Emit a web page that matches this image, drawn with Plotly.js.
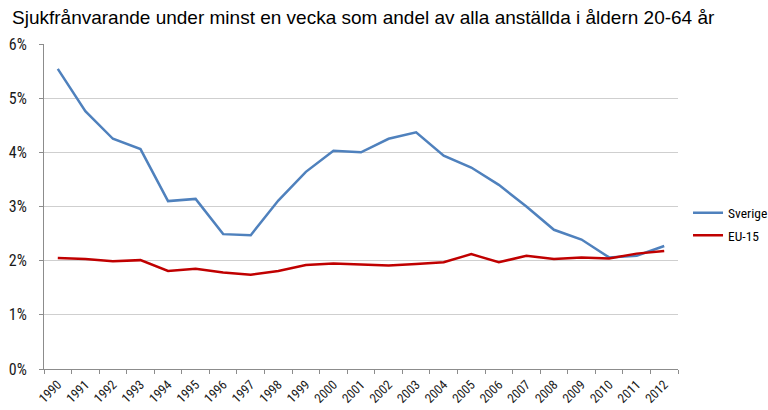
<!DOCTYPE html>
<html>
<head>
<meta charset="utf-8">
<script src="https://cdn.plot.ly/plotly-3.0.1.min.js"></script>
<style>html,body{margin:0;padding:0;background:#fff;}#chart{width:768px;height:410px;}</style>
</head>
<body>
<div id="chart"></div>
<script>
const years = ['1990','1991','1992','1993','1994','1995','1996','1997','1998','1999','2000','2001','2002','2003','2004','2005','2006','2007','2008','2009','2010','2011','2012'];
const sverige = [5.54,4.76,4.25,4.06,3.10,3.14,2.49,2.47,3.11,3.64,4.03,4.00,4.25,4.37,3.94,3.72,3.40,3.00,2.57,2.39,2.06,2.09,2.27];
const eu15 = [2.05,2.03,1.99,2.01,1.81,1.85,1.78,1.74,1.81,1.92,1.95,1.93,1.91,1.94,1.97,2.12,1.97,2.09,2.03,2.06,2.04,2.13,2.18];
const yTicks = [0,1,2,3,4,5,6];
const yTickText = ['0%','1%','2%','3%','4%','5%','6%'];
const titleText = 'Sjukfrånvarande under minst en vecka som andel av alla anställda i åldern 20-64 år';

const narrow = '"Roboto Condensed", "Liberation Sans Narrow", sans-serif';

const data = [
  {x: years, y: sverige, name: 'Sverige', legendgroup: 'a', type: 'scatter', mode: 'lines',
   line: {color: '#4F81BD', width: 2.5}},
  {x: years, y: eu15, name: 'EU-15', legendgroup: 'b', type: 'scatter', mode: 'lines',
   line: {color: '#C00000', width: 2.5}}
];

const layout = {
  width: 768, height: 410,
  margin: {l: 44, r: 90, t: 44, b: 41, autoexpand: false},
  paper_bgcolor: '#ffffff', plot_bgcolor: '#ffffff',
  title: {text: titleText, x: 12/768, xanchor: 'left', xref: 'container',
          y: 1 - 11/410, yanchor: 'top', yref: 'container',
          font: {family: '"Liberation Sans", Arial, sans-serif', size: 19, color: '#000'}},
  xaxis: {type: 'category', range: [-0.5, 22.5], showgrid: false, showline: true,
          linecolor: '#8C8C8C', linewidth: 1, ticks: 'outside', ticklen: 4, tickcolor: '#8C8C8C',
          tickson: 'boundaries', tickangle: -45, ticklabelstandoff: 2,
          tickfont: {family: narrow, size: 13, color: '#1a1a1a'}, fixedrange: true},
  yaxis: {range: [0, 6], tickvals: yTicks, ticktext: yTickText, showgrid: true,
          gridcolor: '#CFCFCF', gridwidth: 1, showline: true, linecolor: '#8C8C8C',
          ticks: 'outside', ticklen: 4, tickcolor: '#8C8C8C', zeroline: false,
          ticklabelstandoff: 9,
          tickfont: {family: narrow, size: 16, color: '#1a1a1a'}, fixedrange: true},
  showlegend: true,
  legend: {x: 1.0158, xanchor: 'left', y: 0.4446, yanchor: 'middle', bgcolor: 'rgba(0,0,0,0)',
           font: {family: narrow, size: 13.5, color: '#000'}, itemwidth: 30, tracegroupgap: 2}
};

Plotly.newPlot('chart', data, layout, {displayModeBar: false, staticPlot: true});
</script>
</body>
</html>
